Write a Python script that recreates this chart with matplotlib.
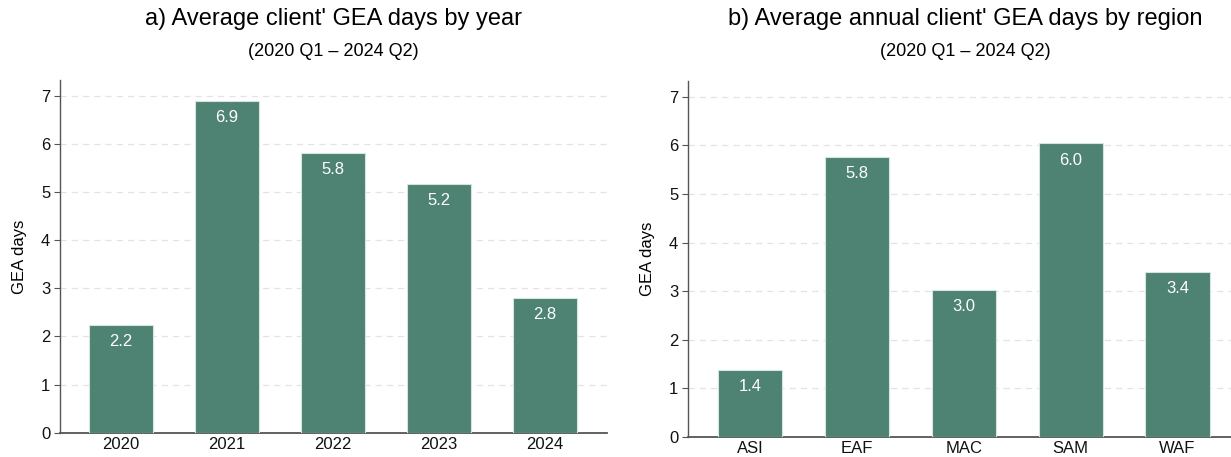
import matplotlib
matplotlib.use("Agg")
import matplotlib.pyplot as plt

plt.rcParams['font.family'] = ['Liberation Sans', 'DejaVu Sans']

years = ["2020", "2021", "2022", "2023", "2024"]
days_by_year = [2.24, 6.90, 5.81, 5.17, 2.80]

regions = ["ASI", "EAF", "MAC", "SAM", "WAF"]
days_by_region = [1.38, 5.77, 3.02, 6.04, 3.39]

BAR_COLOR = "#4e8273"
GRID_COLOR = "#e3e3e3"
SPINE_COLOR = "#555555"

fig = plt.figure(figsize=(12.31, 4.57), dpi=100)
ax_a = fig.add_axes([0.0487, 0.0532, 0.4444, 0.7718])
ax_b = fig.add_axes([0.5589, 0.0438, 0.4411, 0.7796])


def draw_panel(ax, cats, vals, xlim):
    x = range(len(cats))
    ax.bar(x, vals, width=0.6, color=BAR_COLOR, edgecolor="#d6e4df",
           linewidth=0.8, zorder=3)
    for xi, v in zip(x, vals):
        ax.text(xi, v - 0.19, f"{v:.1f}", ha="center", va="top",
                color="white", fontsize=12, zorder=4)
    ax.set_xlim(*xlim)
    ax.set_ylim(0, 7.33)
    ax.set_yticks(range(0, 8))
    ax.set_xticks(list(x))
    ax.set_xticklabels(cats)
    ax.yaxis.grid(True, linestyle=(0, (5, 4)), color=GRID_COLOR,
                  linewidth=0.9, zorder=0)
    ax.set_axisbelow(True)
    for s in ("top", "right"):
        ax.spines[s].set_visible(False)
    ax.spines["left"].set_color(SPINE_COLOR)
    ax.spines["bottom"].set_color(SPINE_COLOR)
    ax.spines["left"].set_linewidth(1.0)
    ax.spines["bottom"].set_linewidth(1.3)
    ax.tick_params(axis="x", length=0, pad=3, labelsize=12, colors="#111111")
    ax.tick_params(axis="y", length=4, width=0.8, color=SPINE_COLOR,
                   labelsize=12, labelcolor="#111111", pad=3)
    ax.set_ylabel("GEA days", fontsize=12, labelpad=10)


draw_panel(ax_a, years, days_by_year, (-0.575, 4.585))
draw_panel(ax_b, regions, days_by_region, (-0.58, 4.5))

fig.text(0.271, 0.958, "a) Average client' GEA days by year",
         ha="center", va="center", fontsize=17)
fig.text(0.271, 0.888, "(2020 Q1 \u2013 2024 Q2)",
         ha="center", va="center", fontsize=13)
fig.text(0.784, 0.958, "b) Average annual client' GEA days by region",
         ha="center", va="center", fontsize=17)
fig.text(0.784, 0.888, "(2020 Q1 \u2013 2024 Q2)",
         ha="center", va="center", fontsize=13)

fig.savefig("out.png", dpi=100)
